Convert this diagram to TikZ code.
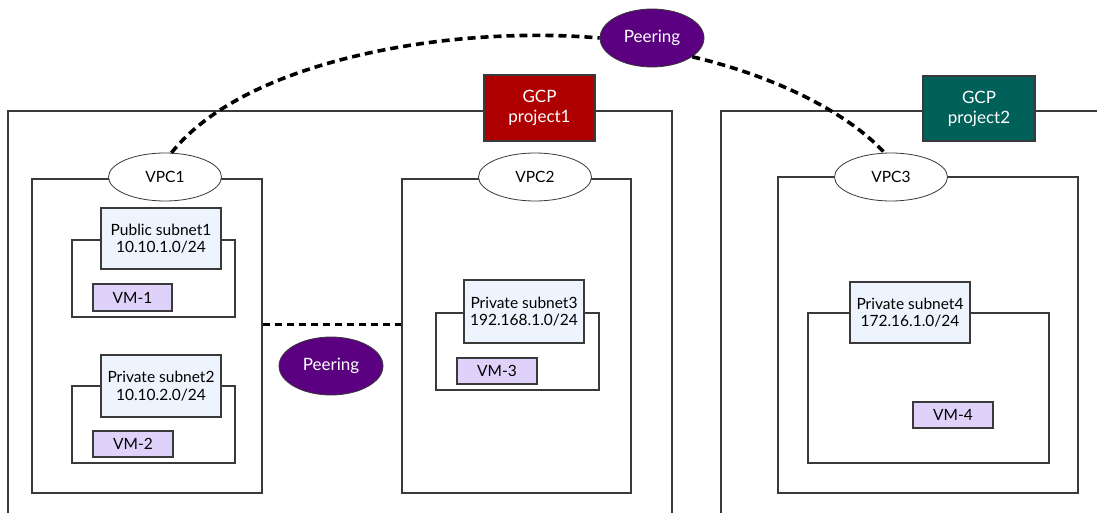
\documentclass[tikz,border=0pt]{standalone}
\usepackage{fontspec}
\setmainfont{Lato}
\usetikzlibrary{shapes.geometric,calc}
\definecolor{gcpred}{HTML}{AE0000}
\definecolor{gcpteal}{HTML}{00605A}
\definecolor{peerpurple}{HTML}{5A0080}
\definecolor{vmfill}{HTML}{DED2FA}
\definecolor{labfill}{HTML}{EEF4FD}
\definecolor{linegray}{HTML}{3A3A3A}
\begin{document}
\begin{tikzpicture}[x=1pt,y=-1pt,
  every node/.style={inner sep=0pt, align=center, font=\fontsize{15.5}{17.5}\selectfont},
  frame/.style={draw=linegray, line width=1.2pt},
  plainbox/.style={rectangle, frame, fill=white},
  labbox/.style={rectangle, frame, fill=labfill, text=black},
  vmbox/.style={rectangle, frame, fill=vmfill, text=black},
  vpcell/.style={ellipse, draw=linegray, line width=0.8pt, fill=white, minimum width=113pt, minimum height=48pt},
  gcpbox/.style={rectangle, frame, text=white, font=\fontsize{17}{20}\selectfont},
  peer/.style={ellipse, draw=linegray, line width=0.8pt, fill=peerpurple, text=white, minimum width=104pt, minimum height=58pt, font=\fontsize{17}{20}\selectfont},
  bigdash/.style={line width=3.6pt, dash pattern=on 8pt off 5pt},
  middash/.style={line width=2.4pt, dash pattern=on 7pt off 5pt}
]
\useasboundingbox (0,0) rectangle (1097,513);

% project frames
\draw[frame] (8,513) -- (8,111) -- (672,111) -- (672,513);
\draw[frame] (721,513) -- (721,111) -- (1097,111);

% VPC boxes
\node[plainbox, minimum width=230pt, minimum height=314pt] (vpc1) at (147,336) {};
\node[plainbox, minimum width=229pt, minimum height=314pt] (vpc2) at (516.5,336) {};
\node[plainbox, minimum width=300pt, minimum height=316pt] (vpc3) at (928,335) {};

% subnet boxes
\node[plainbox, minimum width=163pt, minimum height=77pt] (sub1) at (153.5,278.5) {};
\node[plainbox, minimum width=163pt, minimum height=77pt] (sub2) at (153.5,424.5) {};
\node[plainbox, minimum width=163pt, minimum height=77pt] (sub3) at (517.5,351.5) {};
\node[plainbox, minimum width=241pt, minimum height=150pt] (sub4) at (928.5,388) {};

% subnet labels
\node[labbox, minimum width=120pt, minimum height=61pt] (lab1) at (161,238.5) {Public subnet1\\10.10.1.0/24};
\node[labbox, minimum width=120pt, minimum height=62pt] (lab2) at (161,386) {Private subnet2\\10.10.2.0/24};
\node[labbox, minimum width=120pt, minimum height=63pt] (lab3) at (524,311.5) {Private subnet3\\192.168.1.0/24};
\node[labbox, minimum width=120pt, minimum height=61pt] (lab4) at (910,312.5) {Private subnet4\\172.16.1.0/24};

% VMs
\node[vmbox, minimum width=79pt, minimum height=27pt] (vm1) at (132.5,297.5) {VM-1};
\node[vmbox, minimum width=80pt, minimum height=26pt] (vm2) at (133,444) {VM-2};
\node[vmbox, minimum width=80pt, minimum height=26pt] (vm3) at (497,371) {VM-3};
\node[vmbox, minimum width=80pt, minimum height=26pt] (vm4) at (953,415) {VM-4};

% VPC ellipses
\node[vpcell] (vpc1e) at (165,177) {VPC1};
\node[vpcell] (vpc2e) at (535,177) {VPC2};
\node[vpcell] (vpc3e) at (891,177) {VPC3};

% GCP project labels
\node[gcpbox, fill=gcpred, minimum width=111pt, minimum height=66pt] (gcp1) at (539.5,108) {GCP\\project1};
\node[gcpbox, fill=gcpteal, minimum width=112pt, minimum height=65pt] (gcp2) at (979,108.5) {GCP\\project2};

% peering
\node[peer] (peer1) at (652,38) {Peering};
\node[peer] (peer2) at (331,366) {Peering};

% dashed connections
\draw[bigdash] (vpc1e.75) .. controls (245,60) and (450,25) .. (peer1.west);
\draw[bigdash] (peer1.-25) .. controls (770,75) and (845,110) .. (vpc3e.105);
\draw[middash] ($(vpc1.north east)+(0,146)$) -- ($(vpc2.north west)+(0,146)$);
\end{tikzpicture}
\end{document}
